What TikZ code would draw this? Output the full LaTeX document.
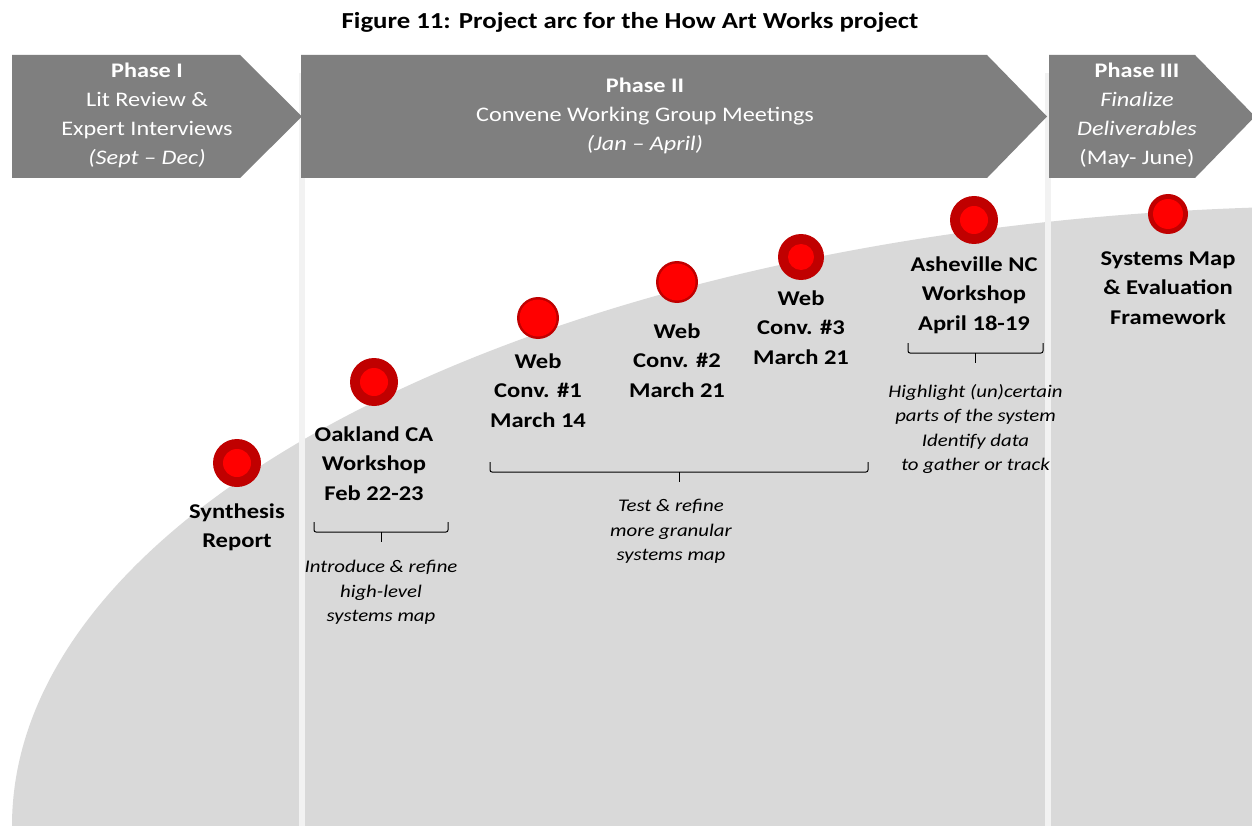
\documentclass[tikz,border=0pt]{standalone}
\usepackage{fontspec}
\setmainfont{Carlito}[FakeStretch=1.17]
\usepackage{xcolor}
\usetikzlibrary{positioning}

\definecolor{phasegrey}{HTML}{7F7F7F}
\definecolor{arcgrey}{HTML}{D9D9D9}
\definecolor{divgrey}{HTML}{F2F2F2}
\definecolor{ringred}{HTML}{C00000}
\definecolor{dotred}{HTML}{FF0000}

\tikzset{
  phase/.style={fill=phasegrey},
  phasetext/.style={text=white, align=center, inner sep=0pt, font=\fontsize{20.7}{29}\selectfont},
  divider/.style={draw=divgrey, line width=6pt},
  ring/.style={circle, fill=ringred, inner sep=0pt},
  mlabel/.style={align=center, inner sep=0pt, font=\bfseries\fontsize{21}{29.5}\selectfont},
  note/.style={align=center, inner sep=0pt, font=\itshape\fontsize{17.8}{24.5}\selectfont},
  bracket/.style={draw=black, line width=1pt, rounded corners=2pt}
}

\begin{document}
\begin{tikzpicture}[x=1pt, y=-1pt]
\useasboundingbox (0,0) rectangle (1252,826);
\fill[white] (0,0) rectangle (1252,826);

\node[font=\bfseries\fontsize{22.9}{26}\selectfont] (title) at (630,22) {Figure 11: Project arc for the How Art Works project};

% the arc
\begin{scope}
\clip (0,0) rectangle (1252,826);
\fill[arcgrey] (1350,826) ellipse [x radius=1338pt, y radius=620pt];
\end{scope}

\draw[divider] (302,73) -- (302,826);
\draw[divider] (1048,73) -- (1048,826);

% phase arrows
\foreach \l/\r/\t in {12/240/302, 301/987/1047, 1049/1195/1255}
{
  \fill[phase] (\l,55) -- (\r,55) -- (\t,116.5) -- (\r,178) -- (\l,178) -- cycle;
}
\node[phasetext] (ph1) at (147,115.5) {\textbf{Phase I}\\Lit Review \&\\Expert Interviews\\\textit{(Sept – Dec)}};
\node[phasetext] (ph2) at (645,115.5) {\textbf{Phase II}\\Convene Working Group Meetings\\\textit{(Jan – April)}};
\node[phasetext] (ph3) at (1137,115.5) {\textbf{Phase III}\\\textit{Finalize}\\\textit{Deliverables}\\(May- June)};

% milestones
\foreach \x/\y/\ro/\ri/\gap/\txt [count=\s] in {
  237/463/24/14/16/Synthesis\\Report,
  374/382/24/14/20/Oakland CA\\Workshop\\Feb 22-23,
  538/318/21/18.5/14/Web\\Conv. \#1\\March 14,
  677/282/21/18.5/20/Web\\Conv. \#2\\March 21,
  801/257/23/13/10/Web\\Conv. \#3\\March 21,
  974/220/24/14/12/Asheville NC\\Workshop\\April 18-19,
  1168/214/20/15/17/Systems Map\\\& Evaluation\\Framework}
{
  \node[ring, minimum size={2*\ro pt}] (m\s) at (\x,\y) {};
  \fill[dotred] (m\s) circle[radius=\ri pt];
  \node[mlabel, below=\gap pt of m\s] (l\s) {\txt};
}

% brackets
\foreach \l/\r/\y [count=\b] in {314/448/522, 490/868/462, 908/1043/343}
{
  \draw[bracket] (\l,\y) -- (\l,\y+10) -- (\r,\y+10) -- (\r,\y);
  \draw[bracket] ({(\l+\r)/2},\y+10) -- ++(0,10) coordinate (b\b);
}
\node[note, below=18pt of b1] (n1) {Introduce \& refine\\high-level\\systems map};
\node[note, below=17pt of b2, xshift=-8pt] (n2) {Test \& refine\\more granular\\systems map};
\node[note, below=21pt of b3] (n3) {Highlight (un)certain\\parts of the system\\Identify data\\to gather or track};
\end{tikzpicture}
\end{document}
